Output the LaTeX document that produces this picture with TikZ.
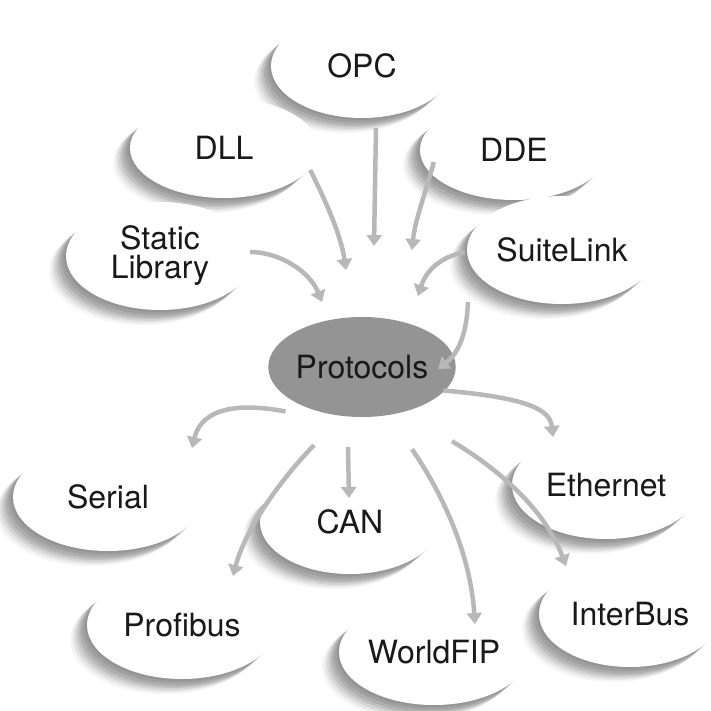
\documentclass[tikz,border=0pt]{standalone}
\usepackage{fontspec}
\setmainfont{TeX Gyre Heros}
\usetikzlibrary{arrows.meta,shapes.geometric,shadows}
\begin{document}
\begin{tikzpicture}[x=1pt,y=-1pt,
  lbl/.style={font=\fontsize{32}{29}\selectfont, align=center, inner sep=0pt, text=black!90},
  blob/.style={lbl, ellipse, fill=white,
    drop shadow={shadow xshift=-2pt, shadow yshift=-2pt, opacity=0.07, fill=black},
    drop shadow={shadow xshift=-4.5pt, shadow yshift=-4.5pt, opacity=0.08, fill=black},
    drop shadow={shadow xshift=-7pt, shadow yshift=-7pt, opacity=0.09, fill=black},
    drop shadow={shadow xshift=-9.5pt, shadow yshift=-9pt, opacity=0.09, fill=black},
    drop shadow={shadow xshift=-12pt, shadow yshift=-11pt, opacity=0.08, fill=black},
    drop shadow={shadow xshift=-14.5pt, shadow yshift=-13pt, opacity=0.06, fill=black},
    drop shadow={shadow xshift=-17pt, shadow yshift=-15pt, opacity=0.04, fill=black}},
  hub/.style={lbl, ellipse, fill=black!42},
  flow/.style={draw=black!28, line width=4.5pt, -{Triangle[width=15pt,length=11pt]}}]
\useasboundingbox (0,0) rectangle (710,711);
\fill[white] (0,0) rectangle (710,711);

\node[blob, minimum width=182pt, minimum height=104pt] (opc)    at (362,66)  {OPC};
\node[blob, minimum width=188pt, minimum height=100pt] (dll)    at (224,148) {DLL};
\node[blob, minimum width=188pt, minimum height=100pt] (dde)    at (514,150) {DDE};
\node[blob, minimum width=188pt, minimum height=108pt] (stat)   at (160,256) {Static\\Library};
\node[blob, minimum width=190pt, minimum height=108pt] (suite)  at (562,250) {SuiteLink};
\node[hub,  minimum width=180pt, minimum height=100pt] (prot)   at (362,367) {Protocols};
\node[blob, minimum width=190pt, minimum height=108pt] (serial) at (108,497) {Serial};
\node[blob, minimum width=180pt, minimum height=104pt] (can)    at (350,522) {CAN};
\node[blob, minimum width=188pt, minimum height=108pt] (eth)    at (606,485) {Ethernet};
\node[blob, minimum width=190pt, minimum height=108pt] (profi)  at (182,625) {Profibus};
\node[blob, minimum width=190pt, minimum height=106pt] (wfip)   at (434,652) {WorldFIP};
\node[blob, minimum width=182pt, minimum height=106pt] (inter)  at (630,614) {InterBus};

% arrow ends
\coordinate (tOPC) at (374,246);
\coordinate (tDLL) at (346,270);
\coordinate (tDDE) at (412,250);
\coordinate (tSTA) at (322,302);
\coordinate (tSUI) at (418,296);
\coordinate (tPRT) at (438,369);
\coordinate (tSER) at (192,448);
\coordinate (tPRO) at (233,576);
\coordinate (tCAN) at (349,498);
\coordinate (tWFI) at (475,624);
\coordinate (tINT) at (566,566);
\coordinate (tETH) at (553,437);
\coordinate (sSUI) at (468,302);

\draw[flow] (opc.south) ++(14,10) -- (tOPC);
\draw[flow] (dll.east) ++(-8,22) .. controls +(15,30) and +(-5,-35) .. (tDLL);
\draw[flow] (dde.west) ++(14,12) .. controls +(-8,30) and +(3,-30) .. (tDDE);
\draw[flow] (stat.east) ++(-4,-4) .. controls +(30,0) and +(-12,-30) .. (tSTA);
\draw[flow] (suite.west) ++(-2,2) .. controls +(-25,5) and +(8,-25) .. (tSUI);
\draw[flow] (sSUI) .. controls (467,330) and (460,352) .. (tPRT);
\draw[flow] (prot.south west) ++(-10,9) .. controls (225,400) and (200,415) .. (tSER);
\draw[flow] (prot.south) ++(-48,28) .. controls (280,480) and (245,530) .. (tPRO);
\draw[flow] (prot.south) ++(-14,30) -- (tCAN);
\draw[flow] (prot.south) ++(50,32) .. controls (440,490) and (470,550) .. (tWFI);
\draw[flow] (prot.south) ++(90,24) .. controls (500,470) and (545,510) .. (tINT);
\draw[flow] (prot.south east) ++(15,-12) .. controls (530,398) and (550,410) .. (tETH);
\end{tikzpicture}
\end{document}
